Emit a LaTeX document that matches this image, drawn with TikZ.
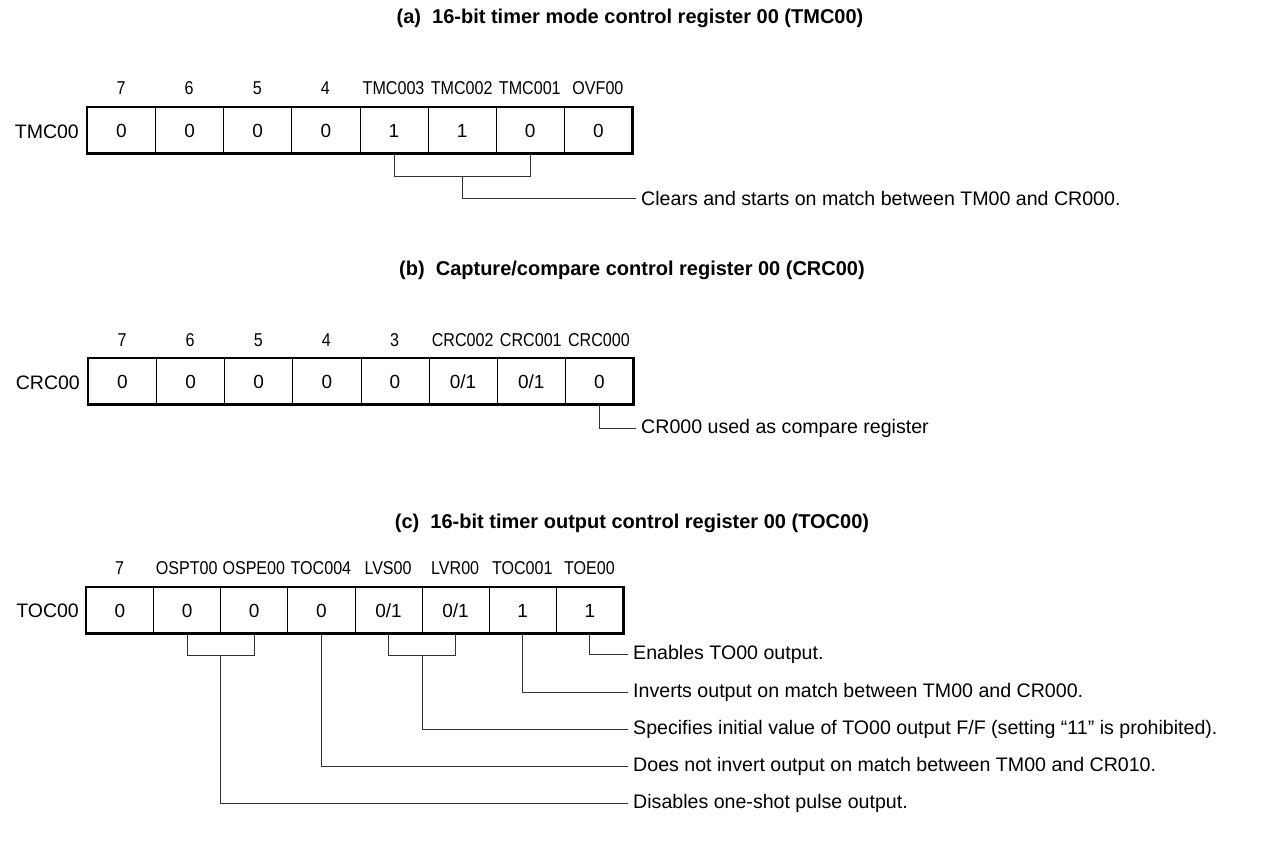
\documentclass[tikz,border=0pt]{standalone}
\usepackage{fontspec}
\usetikzlibrary{calc}
\setmainfont{Liberation Sans}
\newfontfamily\bitnarrow[FakeStretch=0.865]{Liberation Sans}
\begin{document}
\begin{tikzpicture}[x=1pt,y=-1pt,
  cellA/.style={draw, line width=0.8pt, minimum width=68.125pt, minimum height=46pt, inner sep=0pt, anchor=north west, text height=13.6pt, text depth=0pt, font=\fontsize{19}{23}\selectfont},
  cellC/.style={cellA, minimum width=67.125pt},
  bitlbl/.style={inner sep=0pt, text height=13.3pt, text depth=0pt, font=\bitnarrow\fontsize{18.6}{22}\selectfont},
  reglbl/.style={inner sep=0pt, anchor=east, font=\fontsize{19.5}{24}\selectfont},
  outline/.style={draw, line width=2.8pt},
  conn/.style={draw, line width=0.9pt, color=black!80},
  desc/.style={anchor=west, inner sep=0pt, font=\fontsize{19.6}{24}\selectfont},
  ttl/.style={inner sep=0pt, font=\bfseries\fontsize{20}{24}\selectfont}
]
\useasboundingbox (0,0) rectangle (1264,844);

% ---------- (a) ----------
\node[ttl] (ta) at (630,18) {(a)\ \ 16-bit timer mode control register 00 (TMC00)};
\foreach \v [count=\i from 0] in {0,0,0,0,1,1,0,0}
  \node[cellA] (a\i) at ({87+\i*68.125},107) {\v};
\foreach \b [count=\i from 0] in {7,6,5,4,TMC003,TMC002,TMC001,OVF00}
  \node[bitlbl] (ab\i) at ({87+(\i+0.5)*68.125},88) {\b};
\draw[outline] (a0.north west) rectangle (a7.south east);
\node[reglbl] (ra) at (79,132) {TMC00};
\node[desc] (da) at (641,198) {Clears and starts on match between TM00 and CR000.};
\draw[conn] (a4.south) -- ++(0,23) -| (a6.south);
\draw[conn] (a5.south |- 0,176) |- ([xshift=-5pt]da.west);

% ---------- (b) ----------
\node[ttl] (tb) at (632,270) {(b)\ \ Capture/compare control register 00 (CRC00)};
\foreach \v [count=\i from 0] in {0,0,0,0,0,0/1,0/1,0}
  \node[cellA] (b\i) at ({88+\i*68.125},358) {\v};
\foreach \b [count=\i from 0] in {7,6,5,4,3,CRC002,CRC001,CRC000}
  \node[bitlbl] (bb\i) at ({88+(\i+0.5)*68.125},340) {\b};
\draw[outline] (b0.north west) rectangle (b7.south east);
\node[reglbl] (rb) at (80,383) {CRC00};
\node[desc] (db) at (641,428) {CR000 used as compare register};
\draw[conn] (b7.south) |- ([xshift=-5pt]db.west);

% ---------- (c) ----------
\node[ttl] (tc) at (632,523) {(c)\ \ 16-bit timer output control register 00 (TOC00)};
\foreach \v [count=\i from 0] in {0,0,0,0,0/1,0/1,1,1}
  \node[cellC] (c\i) at ({86+\i*67.125},587) {\v};
\foreach \b [count=\i from 0] in {7,OSPT00,OSPE00,TOC004,LVS00,LVR00,TOC001,TOE00}
  \node[bitlbl] (cb\i) at ({86+(\i+0.5)*67.125},568) {\b};
\draw[outline] (c0.north west) rectangle (c7.south east);
\node[reglbl] (rc) at (79,611) {TOC00};
\node[desc] (d1) at (633,654) {Enables TO00 output.};
\node[desc] (d2) at (633,692) {Inverts output on match between TM00 and CR000.};
\node[desc] (d3) at (633,729) {Specifies initial value of TO00 output F/F (setting “11” is prohibited).};
\node[desc] (d4) at (633,766) {Does not invert output on match between TM00 and CR010.};
\node[desc] (d5) at (633,803) {Disables one-shot pulse output.};
\draw[conn] (c1.south) -- ++(0,22) -| (c2.south);
\draw[conn] (c4.south) -- ++(0,22) -| (c5.south);
\draw[conn] (c7.south) |- ([xshift=-5pt]d1.west);
\draw[conn] (c6.south) |- ([xshift=-5pt]d2.west);
\draw[conn] ($(c4.south)!0.5!(c5.south)+(0,22)$) |- ([xshift=-5pt]d3.west);
\draw[conn] (c3.south) |- ([xshift=-5pt]d4.west);
\draw[conn] ($(c1.south)!0.5!(c2.south)+(0,22)$) |- ([xshift=-5pt]d5.west);
\end{tikzpicture}
\end{document}
